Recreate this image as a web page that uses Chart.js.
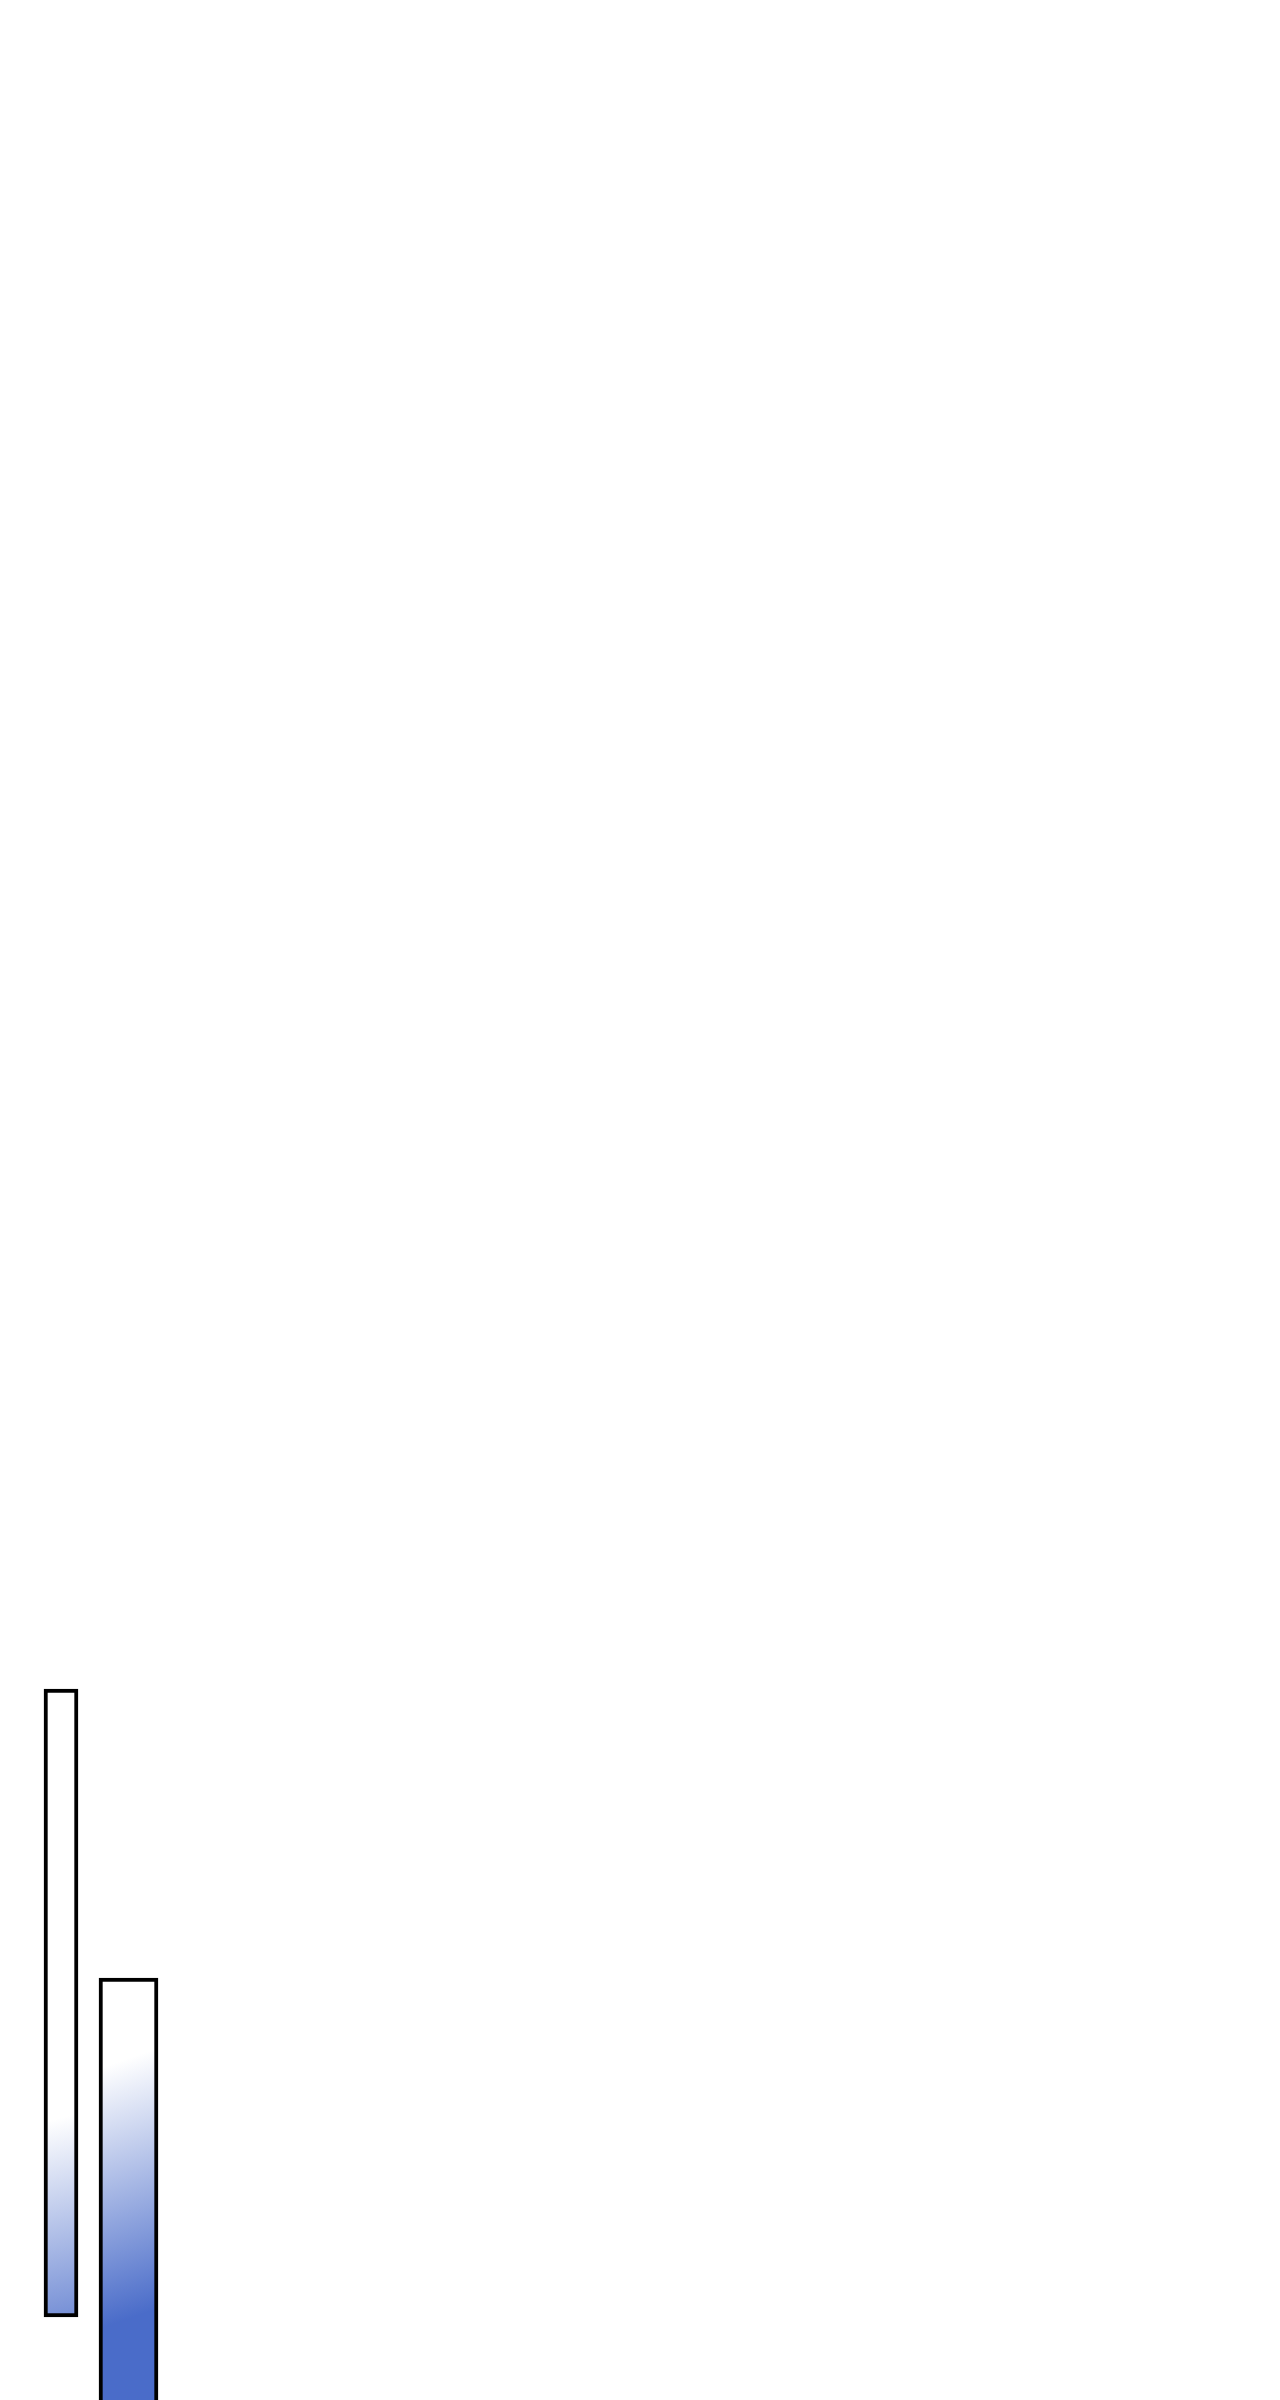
<!DOCTYPE html>
<html>
<head>
<meta charset="utf-8">
<script src="https://cdn.jsdelivr.net/npm/chart.js@4.4.1/dist/chart.umd.min.js"></script>
<style>
  html, body { margin: 0; padding: 0; background: #ffffff; }
  #wrap { width: 1280px; height: 2400px; position: relative; overflow: hidden; }
  canvas { display: block; }
</style>
</head>
<body>
<div id="wrap"><canvas id="c" width="1280" height="2400"></canvas></div>
<script>
// ---- data ----
const categories = ['1', '2'];
const seriesA = [[8.3, 71.1], null];   // first bar: floating range [low, high]
const seriesB = [null, [-5, 42.2]];    // second bar: extends below the visible area
const yMin = 0;
const yMax = 240;

// ---- style ----
const BLUE = '#4a6cc9';
function makeGradient(ctx, whiteVal, blueVal, slant) {
  const chart = ctx.chart;
  const ys = chart.scales.y, xs = chart.scales.x;
  if (!ys || !xs) return BLUE;
  const xc = xs.getPixelForValue(ctx.dataIndex);
  const y0 = ys.getPixelForValue(whiteVal);
  const y1 = ys.getPixelForValue(blueVal);
  if (!isFinite(xc) || !isFinite(y0) || !isFinite(y1)) return BLUE;
  const g = chart.ctx.createLinearGradient(xc - slant, y0, xc + slant, y1);
  g.addColorStop(0, '#ffffff');
  g.addColorStop(1, BLUE);
  return g;
}

new Chart(document.getElementById('c'), {
  type: 'bar',
  data: {
    labels: categories,
    datasets: [
      {
        data: seriesA,
        barThickness: 34,
        borderColor: '#000000',
        borderWidth: 4,
        borderSkipped: false,
        grouped: false,
        backgroundColor: (ctx) => makeGradient(ctx, 27.5, 2.5, 30)
      },
      {
        data: seriesB,
        barThickness: 59,
        borderColor: '#000000',
        borderWidth: 4,
        borderSkipped: false,
        grouped: false,
        backgroundColor: (ctx) => makeGradient(ctx, 32.8, 9.5, 40)
      }
    ]
  },
  options: {
    responsive: false,
    animation: false,
    layout: { padding: { left: 27.25, right: 1117.75, top: 0, bottom: 0 } },
    plugins: { legend: { display: false }, tooltip: { enabled: false }, title: { display: false } },
    scales: {
      x: { type: 'category', display: false, offset: true },
      y: { type: 'linear', display: false, min: yMin, max: yMax }
    }
  }
});
</script>
</body>
</html>
